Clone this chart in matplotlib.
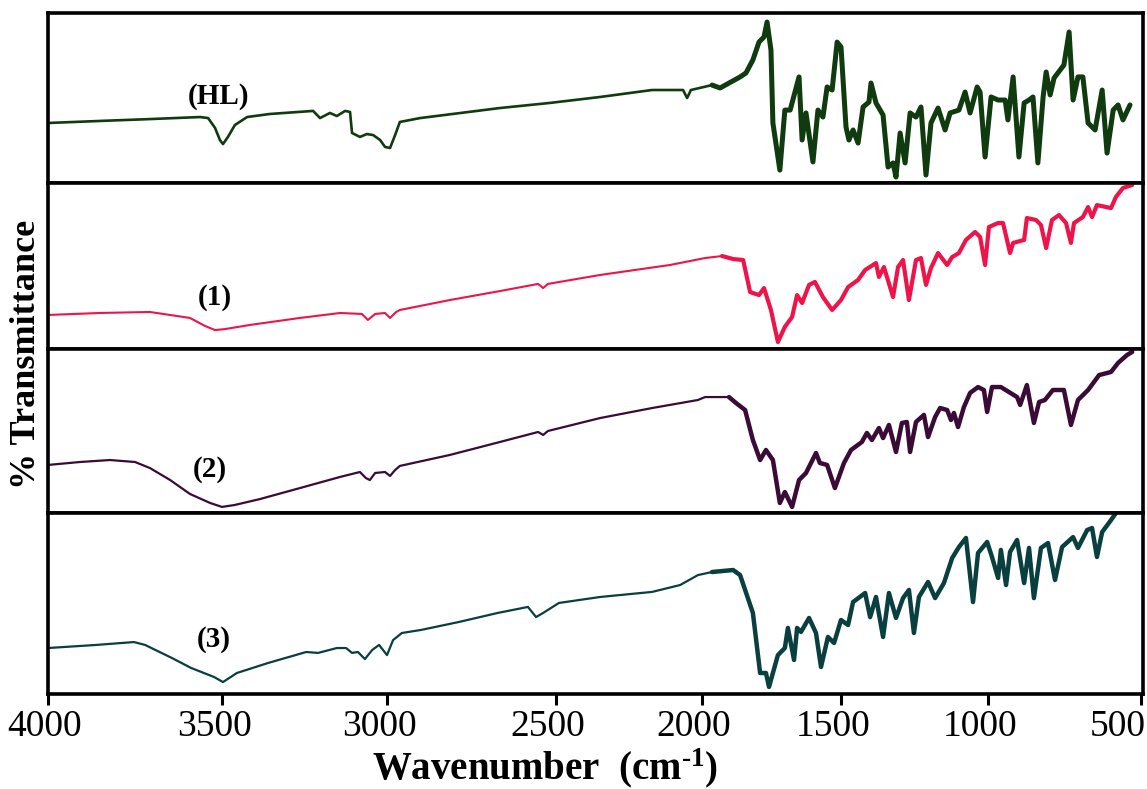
import numpy as np
import matplotlib
matplotlib.use("Agg")
import matplotlib.pyplot as plt
from matplotlib.transforms import ScaledTranslation

plt.rcParams['font.family'] = ['Liberation Serif', 'DejaVu Serif']
plt.rcParams['mathtext.fontset'] = 'custom'
plt.rcParams['mathtext.rm'] = 'Liberation Serif:bold'
plt.rcParams['mathtext.it'] = 'Liberation Serif:bold'
plt.rcParams['mathtext.bf'] = 'Liberation Serif:bold'

# ---------------- data ----------------
tick_wn = [4000, 3500, 3000, 2500, 2000, 1500, 1000, 500]
tick_labels = ["4000", "3500", "3000", "2500", "2000", "1500", "1000", "500"]

series_names = ["(HL)", "(1)", "(2)", "(3)"]

HL_wn = [4000, 3851, 3707, 3563, 3540, 3520, 3506, 3497, 3482, 3461, 3424, 3355, 3224, 3203,
         3173, 3152, 3127, 3112, 3106, 3082, 3061, 3042, 3021, 3006, 2991, 2976, 2962, 2902,
         2666, 2518, 2349, 2171, 2110, 2065, 2051, 2038, 1964, 1935, 1863, 1842, 1817, 1795,
         1777, 1766, 1752, 1745, 1720, 1702, 1683, 1651, 1640, 1626, 1601, 1583, 1565, 1550,
         1532, 1514, 1500, 1483, 1473, 1459, 1442, 1425, 1405, 1398, 1381, 1357, 1340, 1323,
         1313, 1299, 1282, 1265, 1245, 1228, 1211, 1194, 1170, 1146, 1129, 1099, 1078, 1061,
         1037, 1027, 1010, 990, 967, 944, 935, 918, 899, 882, 866, 853, 837, 820, 810, 797,
         784, 752, 735, 722, 706, 690, 673, 650, 627, 611, 591, 575, 559, 536]
HL_T = [35.3, 36.5, 37.6, 38.8, 38.2, 32.4, 25.3, 22.9, 27.1, 34.1, 38.8, 40.6, 42.4, 38.2,
        41.2, 39.4, 42.4, 41.8, 29.4, 27.1, 28.8, 28.2, 25.3, 21.2, 20.6, 28.2, 35.9, 38.2,
        44.1, 47.1, 50.6, 54.7, 54.7, 54.7, 50.0, 54.7, 57.6, 55.9, 62.4, 64.7, 72.4, 82.9,
        85.9, 94.7, 78.2, 35.3, 7.6, 42.9, 42.9, 62.4, 25.3, 41.2, 12.4, 42.9, 38.8, 56.5,
        54.7, 82.9, 80.0, 32.9, 25.3, 31.2, 23.5, 44.7, 47.6, 58.8, 47.1, 40.0, 9.4, 11.8,
        3.5, 29.4, 11.8, 41.2, 38.8, 44.7, 4.7, 35.3, 44.1, 31.2, 41.2, 42.9, 53.5, 41.2,
        56.5, 53.5, 15.3, 50.6, 48.8, 48.8, 37.1, 62.4, 15.3, 47.1, 48.8, 50.6, 11.8, 50.6,
        65.3, 51.8, 61.8, 69.4, 88.8, 48.8, 62.4, 62.4, 35.3, 31.2, 54.7, 17.6, 42.9, 45.9,
        37.1, 45.9]

C1_wn = [4000, 3851, 3707, 3592, 3549, 3520, 3491, 3415, 3264, 3142, 3076, 3058, 3036, 3006,
         2991, 2973, 2962, 2814, 2666, 2553, 2538, 2524, 2349, 2110, 1989, 1928, 1888, 1852,
         1827, 1795, 1777, 1752, 1727, 1702, 1676, 1658, 1640, 1615, 1594, 1565, 1532, 1500,
         1476, 1442, 1418, 1381, 1371, 1354, 1323, 1306, 1289, 1269, 1245, 1228, 1211, 1194,
         1170, 1139, 1122, 1099, 1075, 1044, 1027, 1010, 997, 967, 951, 928, 918, 882, 873,
         843, 827, 810, 791, 768, 745, 729, 719, 690, 673, 660, 644, 598, 582, 559, 529]
C1_T = [20.5, 21.7, 22.3, 18.7, 13.9, 11.4, 12.0, 14.5, 18.7, 21.7, 21.1, 17.5, 21.1, 21.7,
        18.7, 22.3, 23.5, 29.5, 34.9, 39.2, 36.7, 39.2, 44.6, 50.6, 54.8, 56.0, 54.2, 53.6,
        34.3, 32.5, 36.7, 23.5, 4.2, 13.3, 19.3, 32.5, 27.7, 38.6, 40.4, 31.3, 23.5, 29.5,
        37.3, 41.6, 47.6, 51.8, 43.4, 49.4, 31.3, 49.4, 53.6, 29.5, 53.6, 54.8, 38.6, 48.8,
        57.8, 50.6, 55.4, 57.8, 65.7, 70.5, 67.5, 50.6, 73.5, 75.9, 75.9, 57.8, 63.9, 65.7,
        78.9, 77.7, 74.7, 60.8, 77.7, 80.7, 75.9, 63.9, 75.9, 79.5, 85.5, 79.5, 86.7, 84.9,
        91.6, 97.0, 98.8]

C2_wn = [4000, 3908, 3822, 3750, 3707, 3649, 3592, 3534, 3500, 3461, 3385, 3264, 3142, 3082,
         3064, 3052, 3036, 3006, 2991, 2976, 2962, 2814, 2666, 2553, 2538, 2524, 2349, 2171,
         2014, 1989, 1903, 1878, 1845, 1817, 1791, 1770, 1745, 1720, 1702, 1676, 1651, 1626,
         1590, 1576, 1550, 1522, 1490, 1466, 1429, 1412, 1395, 1371, 1357, 1337, 1313, 1293,
         1276, 1265, 1245, 1218, 1204, 1180, 1163, 1139, 1126, 1116, 1102, 1082, 1061, 1034,
         1014, 1003, 987, 958, 905, 895, 873, 850, 833, 814, 788, 752, 729, 706, 673, 637,
         598, 575, 546, 529]
C2_T = [29.3, 31.1, 32.3, 31.1, 27.4, 20.1, 11.6, 6.1, 3.7, 4.9, 8.5, 15.2, 22.0, 25.0,
        21.3, 20.1, 24.4, 25.0, 22.6, 26.2, 28.7, 35.4, 43.3, 49.4, 47.6, 50.0, 57.9, 64.0,
        68.9, 70.7, 70.7, 67.1, 62.8, 44.5, 32.3, 38.4, 32.3, 6.1, 12.8, 3.7, 20.1, 24.4,
        36.6, 30.5, 29.3, 15.2, 30.5, 38.4, 43.3, 48.8, 44.5, 51.8, 45.7, 53.7, 37.2, 54.9,
        55.5, 37.2, 55.5, 59.8, 46.3, 58.5, 64.0, 62.8, 56.7, 61.0, 52.4, 64.6, 73.2, 76.8,
        75.0, 61.6, 76.8, 76.8, 70.7, 65.9, 78.0, 54.9, 67.7, 68.9, 75.0, 75.0, 53.7, 68.9,
        75.0, 84.1, 86.0, 91.5, 96.3, 98.2]

C3_wn = [4000, 3862, 3753, 3721, 3644, 3589, 3523, 3497, 3455, 3361, 3245, 3209, 3152, 3124,
         3106, 3088, 3067, 3045, 3024, 3000, 2982, 2956, 2899, 2787, 2672, 2583, 2559, 2538,
         2490, 2349, 2171, 2075, 2014, 1964, 1888, 1863, 1817, 1791, 1770, 1759, 1727, 1702,
         1691, 1669, 1658, 1644, 1615, 1590, 1572, 1547, 1525, 1500, 1476, 1459, 1418, 1401,
         1381, 1357, 1337, 1313, 1289, 1269, 1252, 1235, 1204, 1180, 1150, 1122, 1099, 1075,
         1051, 1034, 1003, 987, 967, 958, 941, 928, 905, 882, 866, 850, 827, 804, 781, 758,
         722, 706, 676, 660, 644, 627, 598, 582]
C3_T = [25.4, 27.1, 28.7, 27.1, 19.9, 14.4, 9.4, 6.6, 11.6, 17.1, 23.2, 22.7, 25.4, 25.4,
        22.7, 23.2, 19.3, 24.3, 27.1, 21.5, 29.8, 33.7, 35.4, 39.8, 44.8, 48.1, 42.5, 44.8,
        50.3, 53.6, 56.4, 60.2, 65.7, 67.4, 68.5, 65.7, 44.8, 11.6, 11.6, 3.9, 21.5, 25.4,
        36.5, 18.8, 36.5, 34.3, 42.0, 33.7, 14.9, 31.5, 28.2, 40.9, 38.1, 50.8, 55.8, 42.5,
        53.6, 31.5, 55.8, 42.0, 53.0, 57.5, 33.7, 53.6, 61.9, 53.0, 61.3, 75.1, 81.2, 86.2,
        50.8, 77.9, 84.0, 75.7, 64.1, 79.6, 60.2, 78.5, 85.1, 61.3, 80.7, 53.0, 80.7, 83.4,
        63.0, 81.2, 86.7, 80.7, 90.6, 91.7, 75.7, 89.5, 96.1, 100.0]

# ---------------- style / layout ----------------
colors = ["#0f3b0f", "#ee1449", "#3a0b36", "#0a3f40"]
thin_lw = [1.9, 1.5, 1.6, 1.6]
thick_lw = [3.6, 3.0, 3.2, 3.2]
label_pos = [(0.156, 0.51), (0.1525, 0.31), (0.148, 0.265), (0.151, 0.30)]

# the reference's wavenumber axis is unevenly spaced between ticks
scale_wn = [4100] + tick_wn + [400]
scale_pos = [-35, 0, 174, 339, 508, 654, 793, 940, 1093, 1126]
neg_wn = -np.array(scale_wn, dtype=float)
pos_arr = np.array(scale_pos, dtype=float)


def fwd(x):
    # monotonically increasing in x; axis is then shown reversed via xlim
    return -np.interp(-np.asarray(x, dtype=float), neg_wn, pos_arr)


def inv(p):
    return -np.interp(-np.asarray(p, dtype=float), pos_arr, neg_wn)


fig = plt.figure(figsize=(11.47, 7.89), dpi=100)
gs = fig.add_gridspec(4, 1, left=48 / 1147, right=1143 / 1147,
                      top=1 - 13 / 789, bottom=1 - 694 / 789,
                      hspace=0, height_ratios=[170, 166, 164, 181])

data = [(HL_wn, HL_T), (C1_wn, C1_T), (C2_wn, C2_T), (C3_wn, C3_T)]
axes = []
for i in range(4):
    ax = fig.add_subplot(gs[i])
    ax.set_xscale('function', functions=(fwd, inv))
    ax.set_xlim(4000, 494)
    ax.set_ylim(0, 100)
    wn = np.array(data[i][0], dtype=float)
    tt = np.array(data[i][1], dtype=float)
    m_thin = wn >= 1900
    m_thick = wn <= 1970
    ax.plot(wn[m_thin], tt[m_thin], color=colors[i], lw=thin_lw[i],
            solid_joinstyle='round', solid_capstyle='round')
    ax.plot(wn[m_thick], tt[m_thick], color=colors[i], lw=thick_lw[i],
            solid_joinstyle='round', solid_capstyle='round')
    ax.text(label_pos[i][0], label_pos[i][1], series_names[i], transform=ax.transAxes,
            ha='center', va='center', fontsize=21, fontweight='bold')
    ax.set_yticks([])
    for sp in ax.spines.values():
        sp.set_linewidth(2.6)
        sp.set_color('black')
    ax.minorticks_off()
    if i < 3:
        ax.tick_params(axis='x', bottom=False, labelbottom=False)
    else:
        ax.set_xticks(tick_wn)
        ax.set_xticklabels(tick_labels)
        ax.tick_params(axis='x', direction='out', length=8, width=2.2,
                       labelsize=27, pad=3)
        # the reference's labels sit a little to the left of their ticks
        labs = ax.get_xticklabels()
        for k, lab in enumerate(labs):
            if k == len(labs) - 1:
                shift = -23
            elif k == 0:
                shift = -3
            else:
                shift = -8
            lab.set_transform(lab.get_transform() +
                              ScaledTranslation(shift / 100, 0, fig.dpi_scale_trans))
    axes.append(ax)

fig.text(545 / 1147, 1 - 768 / 789, r"Wavenumber  (cm$^{\text{-}1}$)", ha='center', va='center',
         fontsize=28, fontweight='bold')
fig.text(27 / 1147, 1 - 354 / 789, "% Transmittance", ha='center', va='center',
         rotation=90, fontsize=26, fontweight='bold')

fig.savefig("out.png", dpi=100)
